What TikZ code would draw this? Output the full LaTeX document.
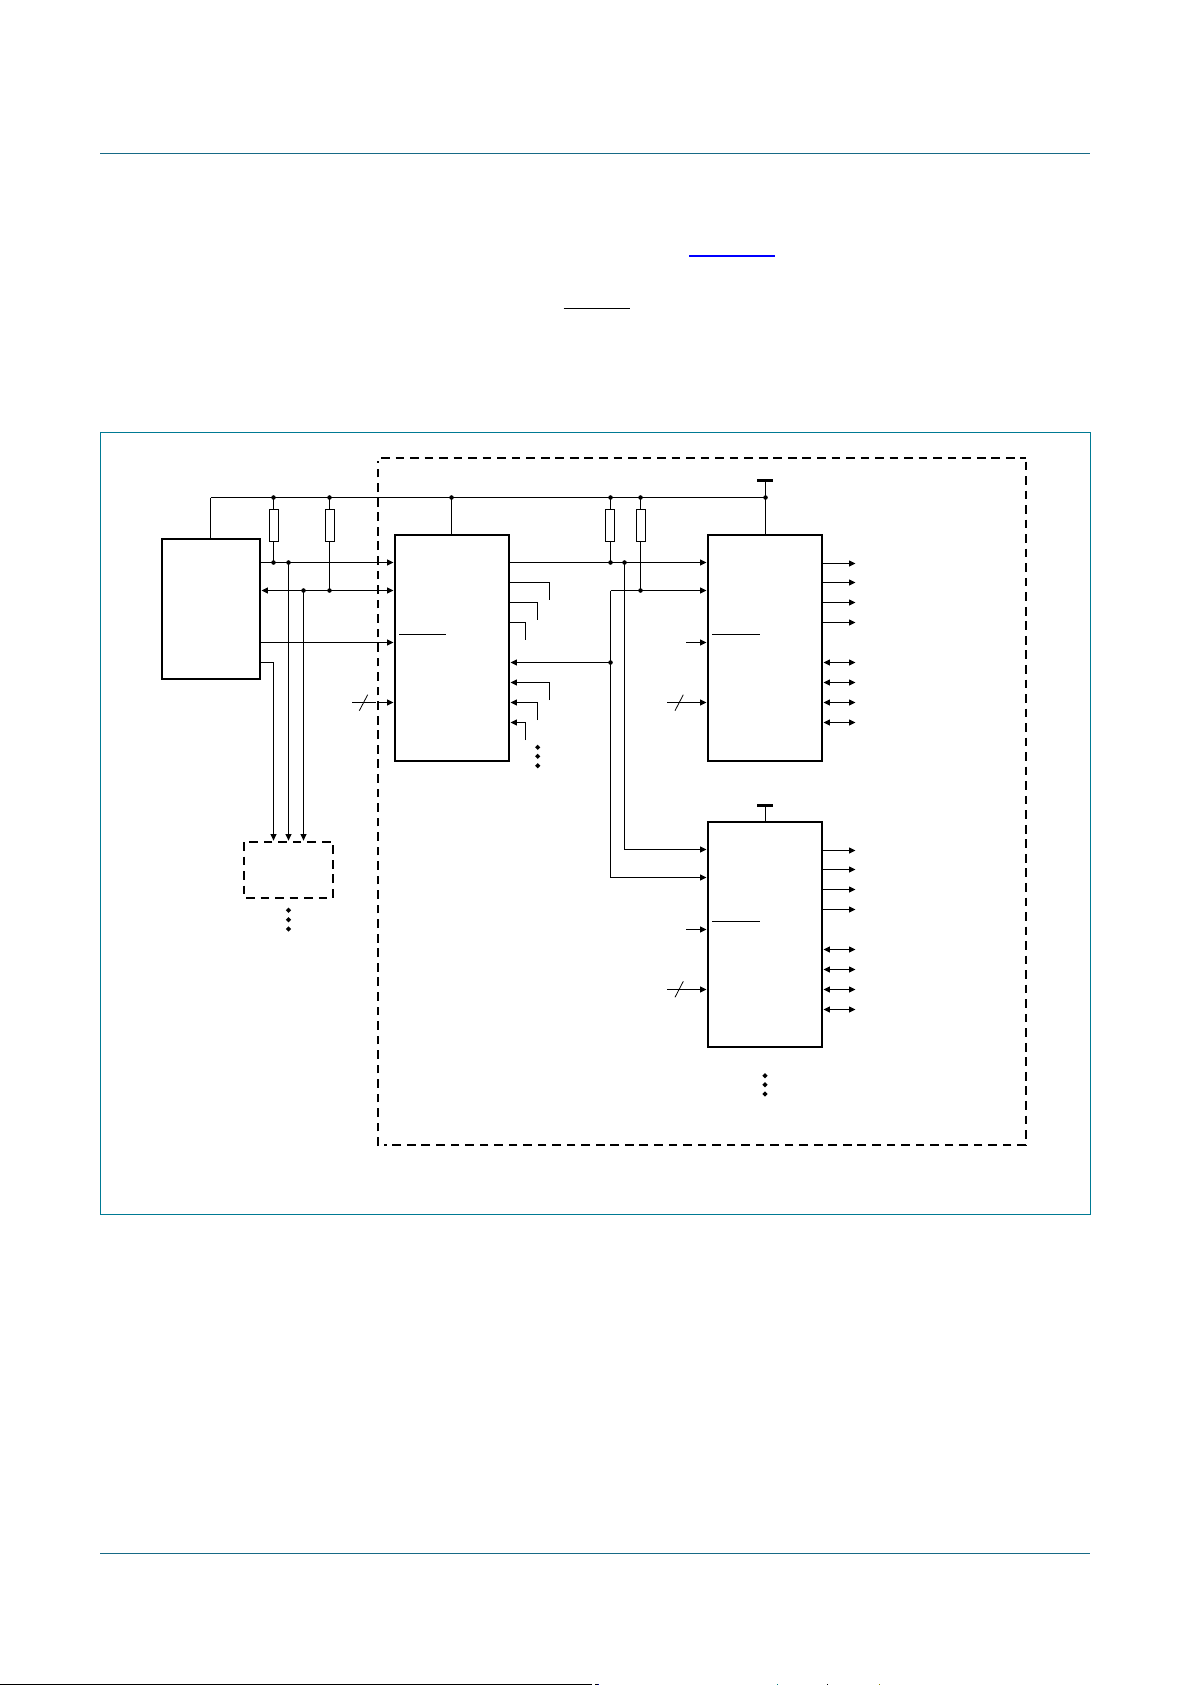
\documentclass[tikz,border=0pt]{standalone}
\usetikzlibrary{arrows.meta,calc}
\definecolor{frameteal}{HTML}{007A94}
\definecolor{ruleteal}{HTML}{176A86}
\tikzset{
  x=0.75pt,y=-0.75pt,
  wire/.style={line width=0.75pt,black,line cap=butt},
  arr/.style={wire,-{Triangle[length=4.8pt,width=4.4pt]}},
  biarr/.style={wire,{Triangle[length=4.8pt,width=4.4pt]}-{Triangle[length=4.8pt,width=4.4pt]}},
  slash/.style={line width=0.6pt,black},
  chip/.style={draw=black,line width=1.75pt,fill=white,inner sep=0pt,outer sep=1.1pt,anchor=center},
  resbox/.style={draw=black,line width=0.75pt,fill=white,inner sep=0pt,outer sep=0pt,minimum width=6.75pt,minimum height=24pt},
  dashline/.style={draw=black,line width=1.7pt,dash pattern=on 6.5pt off 4.4pt},
  overbar/.style={line width=0.75pt,black},
  supply/.style={line width=2.2pt,black},
  rule/.style={line width=0.85pt,ruleteal},
  jn/.style={circle,fill=black,inner sep=0pt,outer sep=0pt,minimum size=3.4pt},
}
\newcommand{\dia}[1]{\fill ($(#1)+(-2.6,0)$) -- ($(#1)+(0,-2.6)$) -- ($(#1)+(2.6,0)$) -- ($(#1)+(0,2.6)$) -- cycle;}
\begin{document}
\begin{tikzpicture}
\useasboundingbox (0,0) rectangle (1191,1685);
\fill[white] (0,0) rectangle (1191,1685);
% page furniture
\draw[rule] (100,153.5) coordinate (ruleTL) -- (1089.5,153.5) coordinate (ruleTR);
\draw[rule] (100,1553.5) coordinate (ruleBL) -- (1089.5,1553.5) coordinate (ruleBR);
\draw[line width=0.9pt,blue] (689,256) coordinate (linkL) -- (775,256) coordinate (linkR);
\draw[line width=0.9pt,black] (563.5,308.3) coordinate (barL) -- (629.5,308.3) coordinate (barR);
\fill[black] (0,1684) rectangle (592.3,1685);
\fill[black] (595,1684) rectangle (598,1685);
\fill[blue!70!black] (598,1684) rectangle (599,1685);
\fill[teal] (776.5,1684) rectangle (777.5,1685);
\fill[black] (827,1684) rectangle (828,1685);
\fill[olive] (879,1684) rectangle (880,1685);
% frame
\draw[frameteal,line width=0.75pt] (100.5,432.5) rectangle (1090.5,1214.5);
% dashed enclosures
\draw[dashline] (381,458) -- (1026,458);
\draw[dashline] (1026,461.5) -- (1026,1146);
\draw[dashline] (1026,1145) -- (384,1145);
\draw[dashline] (378,1146) -- (378,460.7);
\draw[dashline] (244,842) rectangle (333,898);
% positions
\coordinate (railY) at (0,497.5);
\coordinate (sdaY) at (0,562.5);
\coordinate (sclY) at (0,590.5);
\coordinate (intY) at (0,642.5);
\coordinate (rstY) at (0,662.5);
\coordinate (addrY) at (0,702.5);
% chips
\node[chip,minimum width=73.5pt,minimum height=105pt] (hostc) at (211,609) {};
\node[chip,minimum width=85.5pt,minimum height=169.5pt] (muxa) at (452,648) {};
\node[chip,minimum width=85.5pt,minimum height=169.5pt] (muxb) at (765,648) {};
\node[chip,minimum width=85.5pt,minimum height=168.75pt] (muxc) at (765,934.5) {};
% rail junctions
\coordinate (rail0) at (210.5,497.5);
\coordinate (rail1) at (273.5,497.5);
\coordinate (rail2) at (329.5,497.5);
\coordinate (rail3) at (451.5,497.5);
\coordinate (rail4) at (610.5,497.5);
\coordinate (rail5) at (640.5,497.5);
\coordinate (rail6) at (765.5,497.5);
\draw[wire] (rail0) -- (rail6);
\draw[wire] (rail0) -- (rail0 |- hostc.north);
\draw[wire] (rail3) -- (rail3 |- muxa.north);
% supply bars
\coordinate (vddb) at (765.5,480.3);
\coordinate (vddc) at (765.5,805.3);
\draw[supply] (757,480.3) -- (773,480.3);
\draw[supply] (757,805.3) -- (773,805.3);
\draw[wire] (vddb) -- (vddb |- muxb.north);
\draw[wire] (vddc) -- (vddc |- muxc.north);
% junctions on bus
\coordinate (sda1) at (273.5,562.5);
\coordinate (sda2) at (288.5,562.5);
\coordinate (scl1) at (303.5,590.5);
\coordinate (scl2) at (329.5,590.5);
\coordinate (sda3) at (610.5,562.5);
\coordinate (sda4) at (624.5,562.5);
\coordinate (scl3) at (640.5,590.5);
\coordinate (scl4) at (610.5,590.5);
\coordinate (rst2) at (610.5,662.5);
% pull-up leads and resistors
\draw[wire] (rail1) -- (sda1);
\draw[wire] (rail2) -- (scl2);
\draw[wire] (rail4) -- (sda3);
\draw[wire] (rail5) -- (scl3);
\node[resbox] (r1) at (273.8,525.3) {};
\node[resbox] (r2) at (329.8,525.3) {};
\node[resbox] (r3) at (610,525.3) {};
\node[resbox] (r4) at (641,525.3) {};
% host to mux a
\draw[arr] (hostc.east |- sdaY) -- (muxa.west |- sdaY);
\draw[biarr] (hostc.east |- sclY) -- (muxa.west |- sclY);
\draw[arr] (hostc.east |- intY) -- (muxa.west |- intY);
% lines to dashed device
\draw[arr] (hostc.east |- rstY) -| (273.5,840.6) coordinate (d1);
\draw[arr] (sda2) -- (288.5,840.6) coordinate (d2);
\draw[arr] (scl1) -- (303.5,840.6) coordinate (d3);
\dia{288.5,910.3}\dia{288.5,919.7}\dia{288.5,929}
% mux a address
\coordinate (aaddr) at (352,702.5);
\draw[arr] (aaddr) -- (muxa.west |- addrY);
\draw[white,line width=0.8pt] (376,702.5) -- (377,702.5);
\draw[slash] (359.3,710.7) -- (367.7,694.7);
% overbars
\draw[overbar] (399,634.5) -- (446,634.5);
\draw[overbar] (712,634.5) -- (760,634.5);
\draw[overbar] (712,921.5) -- (760,921.5);
% mux a to mux b
\draw[arr] (muxa.east |- sdaY) -- (muxb.west |- sdaY);
\draw[arr] (scl4) -- (muxb.west |- scl4);
\draw[arr] (rst2) -- (muxa.east |- rst2);
% mux a side stubs
\draw[wire] (muxa.east |- 0,582.5) -| (549.5,600);
\draw[wire] (muxa.east |- 0,602.5) -| (537.5,620);
\draw[wire] (muxa.east |- 0,622.5) -| (525.5,640);
\draw[arr] (549.5,700) |- (muxa.east |- 0,682.5);
\draw[arr] (537.5,720) |- (muxa.east |- 0,702.5);
\draw[arr] (525.5,740) |- (muxa.east |- 0,722.5);
\dia{537.7,747.3}\dia{537.7,756.3}\dia{537.7,765.7}
% to mux c
\draw[arr] (sda4) |- (muxc.west |- 0,849.5);
\draw[arr] (scl4) |- (muxc.west |- 0,877.5);
% mux b inputs
\draw[arr] (686,642.5) -- (muxb.west |- intY);
\draw[arr] (667,702.5) -- (muxb.west |- addrY);
\draw[slash] (675,710.7) -- (683.3,694.7);
% mux c inputs
\draw[arr] (686,929.5) -- (muxc.west |- 0,929.5);
\draw[arr] (667,989.5) -- (muxc.west |- 0,989.5);
\draw[slash] (675,997.3) -- (683.3,981.3);
% outputs
\foreach \yy in {563.5,582.5,602.5,622.5}
  \draw[arr] (muxb.east |- 0,\yy) -- (855.5,\yy);
\foreach \yy in {662.5,682.5,702.5,722.5}
  \draw[biarr] (muxb.east |- 0,\yy) -- (855.5,\yy);
\foreach \yy in {850.5,869.5,889.5,909.5}
  \draw[arr] (muxc.east |- 0,\yy) -- (855.5,\yy);
\foreach \yy in {949.5,969.5,989.5,1009.5}
  \draw[biarr] (muxc.east |- 0,\yy) -- (855.5,\yy);
\dia{765,1075.7}\dia{765,1084.7}\dia{765,1094}
% junction dots
\node[jn] (jrail1) at (rail1) {};
\node[jn] (jrail2) at (rail2) {};
\node[jn] (jrail3) at (rail3) {};
\node[jn] (jrail4) at (rail4) {};
\node[jn] (jrail5) at (rail5) {};
\node[jn] (jrail6) at (rail6) {};
\node[jn] (jsda1) at (sda1) {};
\node[jn] (jsda2) at (sda2) {};
\node[jn] (jscl1) at (scl1) {};
\node[jn] (jscl2) at (scl2) {};
\node[jn] (jsda3) at (sda3) {};
\node[jn] (jsda4) at (sda4) {};
\node[jn] (jscl3) at (scl3) {};
\node[jn] (jrst2) at (rst2) {};
\end{tikzpicture}
\end{document}
